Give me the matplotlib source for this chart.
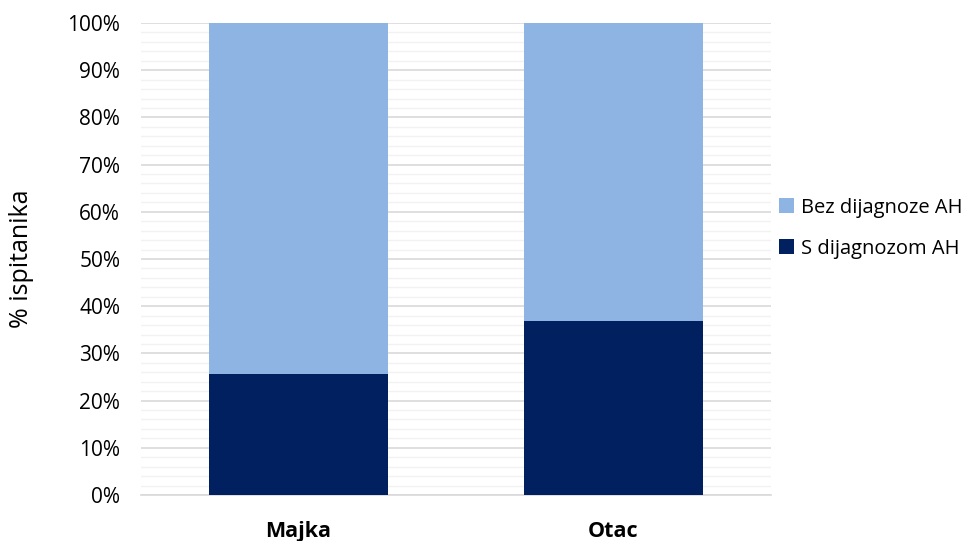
import matplotlib
matplotlib.use("Agg")
import matplotlib.pyplot as plt
from matplotlib.ticker import MultipleLocator, FuncFormatter
from matplotlib.patches import Patch

categories = ["Majka", "Otac"]
s_dijagnozom = [25.6, 36.9]
bez_dijagnoze = [74.4, 63.1]
series_names = ["Bez dijagnoze AH", "S dijagnozom AH"]
colors = {"light": "#8EB4E3", "dark": "#002060"}

plt.rcParams['font.family'] = ['Open Sans', 'DejaVu Sans']

fig = plt.figure(figsize=(9.68, 5.41), dpi=100)
ax = fig.add_axes([0.1457, 0.085, 0.6508, 0.8725])

x = list(range(len(categories)))
w = 0.57
ax.bar(x, s_dijagnozom, width=w, color=colors["dark"], zorder=3)
ax.bar(x, bez_dijagnoze, width=w, bottom=s_dijagnozom, color=colors["light"], zorder=3)

ax.set_xlim(-0.5, 1.5)
ax.set_ylim(0, 100)
ax.yaxis.set_major_locator(MultipleLocator(10))
ax.yaxis.set_minor_locator(MultipleLocator(2))
ax.yaxis.set_major_formatter(FuncFormatter(lambda v, p: f"{int(round(v))}%"))
ax.grid(axis='y', which='major', color='#D9D9D9', linewidth=1.2, zorder=0)
ax.grid(axis='y', which='minor', color='#F2F2F2', linewidth=1.0, zorder=0)
for s in ["top", "right", "left"]:
    ax.spines[s].set_visible(False)
ax.spines["bottom"].set_color('#D9D9D9')
ax.spines["bottom"].set_linewidth(1.2)
ax.tick_params(axis='both', which='both', length=0)
ax.tick_params(axis='y', labelsize=15, pad=15)
ax.set_xticks(x)
ax.set_xticklabels(categories, fontsize=15.5, fontweight='bold')
ax.tick_params(axis='x', pad=19)
ax.set_ylabel("% ispitanika", fontsize=18, labelpad=24)

handles = [Patch(facecolor=colors["light"], label=series_names[0]),
           Patch(facecolor=colors["dark"], label=series_names[1])]
fig.legend(handles=handles, loc='center left', bbox_to_anchor=(0.801, 0.578),
           frameon=False, fontsize=14.5, handlelength=0.75, handleheight=0.75,
           handletextpad=0.3, labelspacing=1.05, borderaxespad=0, borderpad=0.2)

fig.savefig("out.png", dpi=100)
